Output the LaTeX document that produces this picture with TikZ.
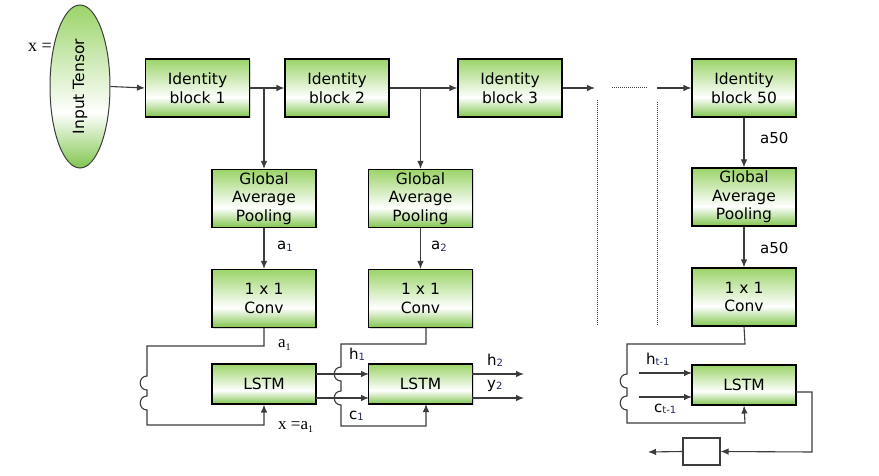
\documentclass[tikz,border=0pt]{standalone}
\usepackage{fontspec}
\setmainfont{DejaVu Sans}
\newfontfamily\serifrm{Liberation Serif}
\usetikzlibrary{arrows.meta,shadows,shapes.geometric}
\definecolor{gtop}{RGB}{155,212,105}
\definecolor{gbot}{RGB}{128,198,78}
\definecolor{linec}{RGB}{60,60,60}
\definecolor{subc}{RGB}{30,40,90}
\pgfdeclareverticalshading{gbox}{100bp}{color(0bp)=(gbot); color(25bp)=(gbot); color(42bp)=(white); color(75bp)=(gtop); color(100bp)=(gtop)}
\newcommand\sbs[1]{\raisebox{-1.5pt}{\fontsize{10}{10}\selectfont\color{subc}#1}}
\newcommand\ssbs[1]{\raisebox{-3pt}{\fontsize{10}{10}\selectfont #1}}
\begin{document}
\begin{tikzpicture}[x=1pt,y=-1pt,
  gbk/.style={draw=black, line width=1.1pt, shading=gbox, minimum width=104pt, minimum height=58pt, inner sep=0pt, align=center, font=\fontsize{15.5}{18.5}\selectfont, drop shadow={shadow xshift=1pt, shadow yshift=-1pt, fill=black!30}},
  lbox/.style={gbk, minimum height=40pt},
  conn/.style={draw=linec, line width=1.1pt},
  arr/.style={conn, -{Latex[length=8pt,width=6.5pt]}},
  lab/.style={font=\fontsize{15}{15}\selectfont, inner sep=0pt, anchor=base west},
  slab/.style={font=\serifrm\fontsize{17}{17}\selectfont, inner sep=0pt, anchor=base west},
  dots/.style={draw=linec, line width=1pt, dash pattern=on 1pt off 1pt}
]
\useasboundingbox (0,0) rectangle (879,476);

% input
\node[ellipse, draw=linec, line width=1pt, shading=gbox, minimum width=60pt, minimum height=163pt, inner sep=0pt, font=\fontsize{15.5}{18.5}\selectfont] (in) at (80,86.5) {\rotatebox{90}{Input Tensor}};
\node[slab, font=\serifrm\fontsize{18}{18}\selectfont] (xeq) at (28,52) {x =};

% identity blocks
\node[gbk] (ib1) at (197.5,88) {Identity\\block 1};
\node[gbk] (ib2) at (337,88) {Identity\\block 2};
\node[gbk] (ib3) at (510,88) {Identity\\block 3};
\node[gbk] (ib50) at (744,88) {Identity\\block 50};

% pooling
\node[gbk] (gap1) at (264,198.5) {Global\\Average\\Pooling};
\node[gbk] (gap2) at (420.5,198.5) {Global\\Average\\Pooling};
\node[gbk] (gap50) at (744,197) {Global\\Average\\Pooling};

% conv
\node[gbk] (cv1) at (264,298.5) {1 x 1\\Conv};
\node[gbk] (cv2) at (420.5,298.5) {1 x 1\\Conv};
\node[gbk] (cv50) at (744,297) {1 x 1\\Conv};

% lstm
\node[lbox] (ls1) at (264,384) {LSTM};
\node[lbox] (ls2) at (420.5,384) {LSTM};
\node[lbox] (ls3) at (744,385) {LSTM};
\node[draw=linec, line width=1.1pt, fill=white, minimum width=37pt, minimum height=27pt, inner sep=0pt] (sb) at (701.5,451.5) {};

% top row
\draw[arr] (in.east) -- (ib1.west);
\draw[arr] (ib1.east) -- (ib2.west);
\draw[arr] (ib2.east) -- (ib3.west);
\draw[arr] (gap1 |- ib1.east) -- (gap1.north);
\draw[arr] (gap2 |- ib2.east) -- (gap2.north);
\coordinate (e3) at (595,88);
\draw[arr] (ib3.east) -- (e3);
\coordinate (d1) at (612,88);
\coordinate (d2) at (648,88);
\draw[dots] (d1) -- (d2);
\coordinate (s50) at (657,88);
\draw[arr] (s50) -- (ib50.west);
\coordinate (v1a) at (597,100);
\coordinate (v1b) at (597,325);
\coordinate (v2a) at (657,102);
\coordinate (v2b) at (657,325);
\draw[dots] (v1a) -- (v1b);
\draw[dots] (v2a) -- (v2b);

% vertical arrows
\draw[arr] (gap1.south) -- (cv1.north);
\draw[arr] (gap2.south) -- (cv2.north);
\draw[arr] (ib50.south) -- (gap50.north);
\draw[arr] (gap50.south) -- (cv50.north);
\node[lab] (la1) at (277,250) {a\sbs{1}};
\node[lab] (la2) at (431,250) {a\sbs{2}};
\node[lab] (la50a) at (760,144) {a50};
\node[lab] (la50b) at (760,253) {a50};

% loop 1
\coordinate (p1) at (264,346);
\coordinate (p2) at (147,346);
\coordinate (p3) at (147,425);
\coordinate (p4) at (264,425);
\draw[arr] (cv1.south) -- (p1) -- (p2) -- (147,376)
  .. controls (138,376) and (138,390) .. (147,390) -- (147,396)
  .. controls (138,396) and (138,410) .. (147,410) -- (p3) -- (p4) -- (ls1.south);
\node[slab] (sa1) at (278,347) {a\ssbs{1}};
\node[slab] (sxa) at (278,429) {x =a\ssbs{1}};

% lstm1 -> lstm2
\coordinate (o1a) at (316,374);
\coordinate (o1b) at (316,398);
\coordinate (i2a) at (369,374);
\coordinate (i2b) at (369,398);
\draw[arr] (o1a) -- (i2a);
\draw[arr] (o1b) -- (i2b);
\coordinate (q0) at (426,328);
\coordinate (q1) at (426,344);
\coordinate (q2) at (341,344);
\coordinate (q3) at (341,426);
\coordinate (q4) at (426,426);
\coordinate (q5) at (426,404);
\draw[arr] (q0) -- (q1) -- (q2) -- (341,367)
  .. controls (332,367) and (332,381) .. (341,381) -- (341,391)
  .. controls (332,391) and (332,405) .. (341,405) -- (q3) -- (q4) -- (q5);
\node[lab] (lh1) at (349,359) {h\sbs{1}};
\node[lab] (lc1) at (349,419) {c\sbs{1}};

% lstm2 outputs
\coordinate (o2a) at (472,374);
\coordinate (o2b) at (472,398);
\coordinate (t2a) at (524,374);
\coordinate (t2b) at (524,398);
\draw[arr] (o2a) -- (t2a);
\draw[arr] (o2b) -- (t2b);
\node[lab] (lh2) at (487,365) {h\sbs{2}};
\node[lab] (ly2) at (487,388) {y\sbs{2}};

% loop 50
\coordinate (r1) at (745,344);
\coordinate (r2) at (627,344);
\coordinate (r3) at (627,423);
\coordinate (r4) at (745,423);
\draw[arr] (cv50.south) -- (r1) -- (r2) -- (627,374)
  .. controls (618,374) and (618,388) .. (627,388) -- (627,396)
  .. controls (618,396) and (618,410) .. (627,410) -- (r3) -- (r4) -- (ls3.south);
\coordinate (h3s) at (639,373);
\coordinate (c3s) at (639,397);
\coordinate (h3e) at (692,373);
\coordinate (c3e) at (692,397);
\draw[arr] (h3s) -- (h3e);
\draw[arr] (c3s) -- (c3e);
\node[lab] (lht) at (646,364) {h\sbs{t-1}};
\node[lab] (lct) at (654,412) {c\sbs{t-1}};

% lstm3 output
\coordinate (u0) at (796,392);
\coordinate (u1) at (812,392);
\coordinate (u2) at (812,452);
\coordinate (w0) at (648,452);
\draw[arr] (u0) -- (u1) -- (u2) -- (sb.east);
\draw[arr] (sb.west) -- (w0);
\end{tikzpicture}
\end{document}
